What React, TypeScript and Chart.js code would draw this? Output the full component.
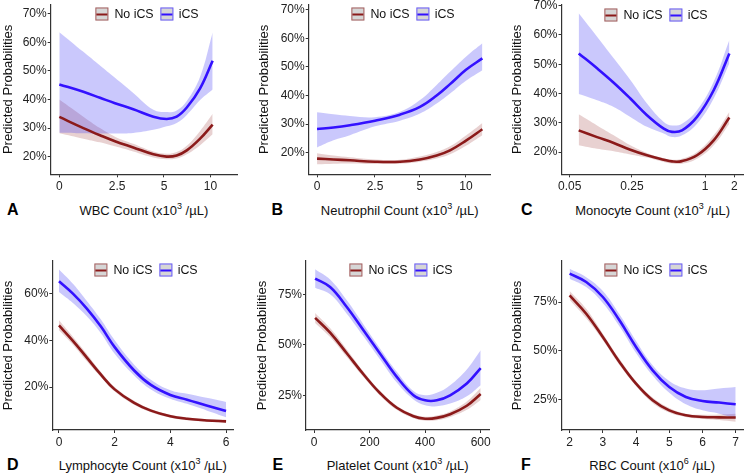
import React, { useEffect, useRef } from "react";
import { Chart, registerables } from "chart.js";
Chart.register(...registerables);

const FONT = "'Liberation Sans', Arial, Helvetica, sans-serif";
Chart.defaults.font.family = FONT;

const RED = "#8B1A1A";
const BLUE = "#3311FF";
const RED_BAND = "rgba(139,26,26,0.2)";
const BLUE_BAND = "rgba(60,50,245,0.27)";

// ---------- Panel A: WBC (non-linear axis, values are axis positions) ----------
const wbcPos = [0, 1.59, 2.69, 3.68, 4.89, 6.22, 7.1, 7.76, 8.43, 9.31, 10.14];
const wbcTickPos = [0, 3.82, 6.92, 10];
const wbcTickLabels = ["0", "2.5", "5", "10"];
const wbcIcs = [45.3, 42.7, 40.6, 38.7, 36.6, 34.0, 33.2, 34.0, 37.2, 43.9, 53.6];
const wbcIcsHi = [63.6, 56.7, 51.9, 47.6, 42.3, 36.4, 35.6, 36.2, 39.5, 48.0, 63.5];
const wbcIcsLo = [28.4, 28.2, 28.1, 28.1, 28.3, 29.4, 30.6, 31.8, 34.6, 39.8, 43.5];
const wbcNo = [33.9, 30.0, 27.5, 25.4, 23.2, 20.8, 20.0, 20.4, 22.2, 26.3, 31.2];
const wbcNoHi = [40.0, 34.0, 30.0, 27.0, 24.5, 21.8, 21.0, 21.6, 23.8, 29.0, 35.0];
const wbcNoLo = [28.2, 26.3, 25.0, 23.6, 21.8, 19.7, 19.1, 19.3, 20.8, 24.0, 27.8];

// ---------- Panel B: Neutrophil ----------
const neuPos = [0, 1.1, 2.21, 3.89, 5.57, 6.91, 8.03, 8.93, 10, 11.1];
const neuTickPos = [0, 3.89, 6.91, 10];
const neuTickLabels = ["0", "2.5", "5", "10"];
const neuIcs = [28.3, 28.8, 29.6, 31.2, 33.3, 36.0, 40.0, 44.0, 49.0, 53.0];
const neuIcsHi = [34.1, 33.4, 32.8, 32.4, 34.3, 38.4, 43.7, 48.3, 53.6, 58.3];
const neuIcsLo = [21.8, 24.3, 26.1, 29.2, 31.2, 33.7, 37.2, 40.7, 45.2, 48.9];
const neuNo = [17.9, 17.6, 17.3, 16.8, 16.8, 17.6, 19.0, 20.8, 24.2, 28.2];
const neuNoHi = [19.8, 19.0, 18.4, 17.6, 17.5, 18.6, 20.2, 22.2, 26.0, 30.4];
const neuNoLo = [15.9, 16.1, 16.2, 16.0, 16.1, 16.8, 17.9, 19.4, 22.4, 26.1];

// ---------- Panel C: Monocyte ----------
const monoPos = [0.66, 2.02, 3.25, 4.48, 5.71, 6.95, 7.56, 8.3, 9.41, 10.64, 11.8];
const monoTickPos = [0, 4.6, 10, 12.17];
const monoTickLabels = ["0.05", "0.25", "1", "2"];
const monoIcs = [53.7, 48.6, 43.7, 38.3, 32.6, 28.0, 26.9, 27.4, 32.0, 41.1, 53.7];
const monoIcsHi = [67.4, 59.4, 52.0, 44.6, 36.6, 30.3, 29.1, 29.7, 34.3, 44.0, 58.3];
const monoIcsLo = [39.8, 37.7, 35.4, 32.0, 28.6, 26.3, 25.1, 25.7, 29.7, 38.3, 50.3];
const monoNo = [27.4, 25.1, 23.1, 20.8, 18.9, 17.4, 16.8, 16.9, 18.9, 24.0, 31.8];
const monoNoHi = [32.9, 29.1, 25.7, 22.3, 19.7, 17.9, 17.4, 17.7, 20.0, 25.7, 33.7];
const monoNoLo = [22.3, 21.1, 20.3, 19.2, 18.1, 16.6, 16.1, 16.0, 17.7, 22.3, 29.7];

// ---------- Panel D: Lymphocyte ----------
const lymX = [0, 0.5, 1.0, 1.5, 2.0, 2.7, 3.3, 4.0, 4.6, 5.3, 6.0];
const lymTicks = [0, 2, 4, 6];
const lymTickLabels = ["0", "2", "4", "6"];
const lymIcs = [65.3, 60.0, 53.6, 46.0, 37.1, 27.1, 20.9, 16.6, 14.6, 12.1, 9.7];
const lymIcsHi = [70.4, 64.3, 56.9, 49.0, 40.0, 29.6, 23.1, 18.6, 17.1, 15.4, 13.6];
const lymIcsLo = [60.7, 56.0, 50.3, 43.2, 34.3, 25.0, 19.0, 15.0, 12.8, 10.0, 7.1];
const lymNo = [46.4, 39.8, 32.6, 25.4, 19.0, 13.2, 9.9, 7.5, 6.4, 5.7, 5.3];
const lymNoHi = [48.6, 41.6, 34.2, 26.6, 20.0, 14.1, 10.6, 8.1, 7.0, 6.3, 6.0];
const lymNoLo = [44.3, 38.1, 31.0, 24.3, 18.1, 12.4, 9.2, 6.9, 5.8, 5.1, 4.6];

// ---------- Panel E: Platelet ----------
const pltX = [4, 58, 118, 178, 238, 298, 358, 400, 442, 490, 550, 600];
const pltTicks = [0, 200, 400, 600];
const pltTickLabels = ["0", "200", "400", "600"];
const pltIcs = [82.8, 78.6, 68.7, 57.2, 45.6, 34.1, 25.0, 22.5, 22.5, 25.0, 30.8, 38.5];
const pltIcsHi = [87.4, 82.3, 72.0, 60.1, 48.1, 36.6, 27.1, 25.0, 26.2, 30.0, 37.8, 47.3];
const pltIcsLo = [78.3, 75.0, 65.4, 54.2, 42.7, 31.3, 22.9, 20.0, 19.6, 20.9, 24.5, 30.0];
const pltNo = [63.3, 56.0, 45.8, 35.4, 26.0, 18.8, 14.6, 13.4, 13.8, 15.6, 19.8, 25.6];
const pltNoHi = [65.8, 58.3, 47.7, 36.8, 27.2, 19.8, 15.6, 14.4, 15.0, 17.0, 21.9, 28.6];
const pltNoLo = [60.8, 53.8, 43.9, 34.0, 24.8, 17.8, 13.6, 12.4, 12.6, 14.2, 17.8, 22.7];

// ---------- Panel F: RBC ----------
const rbcX = [2, 2.5, 3, 3.5, 4, 4.5, 5, 5.5, 6, 6.5, 7];
const rbcTicks = [2, 3, 4, 5, 6, 7];
const rbcTickLabels = ["2", "3", "4", "5", "6", "7"];
const rbcIcs = [89.6, 85.3, 77.6, 65.6, 51.9, 39.9, 31.3, 26.2, 24.1, 23.3, 22.4];
const rbcIcsHi = [92.1, 87.8, 80.7, 68.7, 55.0, 42.5, 34.4, 30.5, 29.6, 30.5, 31.3];
const rbcIcsLo = [87.0, 82.7, 74.5, 62.5, 48.8, 37.2, 28.3, 22.4, 19.3, 17.6, 15.1];
const rbcNo = [78.4, 69.0, 57.0, 44.2, 33.0, 24.5, 19.3, 16.8, 15.9, 15.7, 15.6];
const rbcNoHi = [80.7, 71.5, 58.7, 45.8, 34.3, 25.9, 20.5, 17.6, 17.0, 17.2, 17.6];
const rbcNoLo = [76.2, 66.6, 55.3, 42.6, 31.8, 23.1, 18.2, 15.9, 14.9, 14.3, 13.4];

const pctTicks10 = [20, 30, 40, 50, 60, 70];
const pctTicks20 = [20, 40, 60];
const pctTicks25 = [25, 50, 75];

type Cfg = {
  letter: string;
  xTitle: string;
  sup: string;
  x: number[];
  ics: number[]; icsHi: number[]; icsLo: number[];
  no: number[]; noHi: number[]; noLo: number[];
  xTicks: number[]; xLabels: string[];
  yTicks: number[];
  xMin: number; xMax: number; yMin: number; yMax: number;
  axisX: number; plotRight: number; plotTop: number; axisY: number; titleCx: number;
  legCx: number; legCy: number; letterX: number; titleCy: number;
};

const panels: Cfg[] = [
  { letter: "A", xTitle: "WBC Count", sup: "3", x: wbcPos, ics: wbcIcs, icsHi: wbcIcsHi, icsLo: wbcIcsLo, no: wbcNo, noHi: wbcNoHi, noLo: wbcNoLo,
    xTicks: wbcTickPos, xLabels: wbcTickLabels, yTicks: pctTicks10, xMin: -0.57, xMax: 11.75, yMin: 13.8, yMax: 73.3,
    axisX: 50.7, plotRight: 237, plotTop: 4.5, axisY: 174.3, titleCx: 9, legCx: 147, legCy: 14, letterX: 7, titleCy: 210 },
  { letter: "B", xTitle: "Neutrophil Count", sup: "3", x: neuPos, ics: neuIcs, icsHi: neuIcsHi, icsLo: neuIcsLo, no: neuNo, noHi: neuNoHi, noLo: neuNoLo,
    xTicks: neuTickPos, xLabels: neuTickLabels, yTicks: pctTicks10, xMin: -0.56, xMax: 11.66, yMin: 12.4, yMax: 71.9,
    axisX: 308.7, plotRight: 490.7, plotTop: 4.5, axisY: 174.3, titleCx: 265, legCx: 403, legCy: 14, letterX: 271.5, titleCy: 210 },
  { letter: "C", xTitle: "Monocyte Count", sup: "3", x: monoPos, ics: monoIcs, icsHi: monoIcsHi, icsLo: monoIcsLo, no: monoNo, noHi: monoNoHi, noLo: monoNoLo,
    xTicks: monoTickPos, xLabels: monoTickLabels, yTicks: pctTicks10, xMin: -0.61, xMax: 12.86, yMin: 12.4, yMax: 70.4,
    axisX: 561.5, plotRight: 743.7, plotTop: 4.5, axisY: 174.3, titleCx: 517.7, legCx: 656, legCy: 15, letterX: 521, titleCy: 210 },
  { letter: "D", xTitle: "Lymphocyte Count", sup: "3", x: lymX, ics: lymIcs, icsHi: lymIcsHi, icsLo: lymIcsLo, no: lymNo, noHi: lymNoHi, noLo: lymNoLo,
    xTicks: lymTicks, xLabels: lymTickLabels, yTicks: pctTicks20, xMin: -0.24, xMax: 6.26, yMin: 1.6, yMax: 74,
    axisX: 52.3, plotRight: 233.3, plotTop: 261, axisY: 430, titleCx: 9, legCx: 146, legCy: 270, letterX: 7, titleCy: 465 },
  { letter: "E", xTitle: "Platelet Count", sup: "3", x: pltX, ics: pltIcs, icsHi: pltIcsHi, icsLo: pltIcsLo, no: pltNo, noHi: pltNoHi, noLo: pltNoLo,
    xTicks: pltTicks, xLabels: pltTickLabels, yTicks: pctTicks25, xMin: -28.8, xMax: 631, yMin: 7.8, yMax: 91.5,
    axisX: 306, plotRight: 489.3, plotTop: 261, axisY: 430, titleCx: 262.7, legCx: 401, legCy: 270, letterX: 272.5, titleCy: 465 },
  { letter: "F", xTitle: "RBC Count", sup: "6", x: rbcX, ics: rbcIcs, icsHi: rbcIcsHi, icsLo: rbcIcsLo, no: rbcNo, noHi: rbcNoHi, noLo: rbcNoLo,
    xTicks: rbcTicks, xLabels: rbcTickLabels, yTicks: pctTicks25, xMin: 1.75, xMax: 7.22, yMin: 9.2, yMax: 96.1,
    axisX: 561.3, plotRight: 743, plotTop: 261, axisY: 430, titleCx: 517.7, legCx: 656, legCy: 270, letterX: 521, titleCy: 465 },
];

const pts = (xs: number[], ys: number[]) => xs.map((x, i) => ({ x, y: ys[i] }));

function Panel({ cfg }: { cfg: Cfg }) {
  const ref = useRef<HTMLCanvasElement>(null);
  const L = Math.round(cfg.titleCx - 8.8);
  const T = Math.floor(cfg.plotTop - 10);
  const W = Math.ceil(cfg.plotRight - L + 10);
  const H = Math.ceil(cfg.axisY - T + 24);

  useEffect(() => {
    if (!ref.current) return;
    const lineBase = { pointRadius: 0, tension: 0.4 };
    const chart = new Chart(ref.current, {
      type: "line",
      data: {
        datasets: [
          { ...lineBase, label: "iCS", data: pts(cfg.x, cfg.ics), borderColor: BLUE, borderWidth: 2.6, fill: false },
          { ...lineBase, label: "No iCS", data: pts(cfg.x, cfg.no), borderColor: RED, borderWidth: 2.6, fill: false },
          { ...lineBase, label: "iCS hi", data: pts(cfg.x, cfg.icsHi), borderWidth: 0, borderColor: "rgba(0,0,0,0)", backgroundColor: BLUE_BAND, fill: "+1" },
          { ...lineBase, label: "iCS lo", data: pts(cfg.x, cfg.icsLo), borderWidth: 0, borderColor: "rgba(0,0,0,0)", fill: false },
          { ...lineBase, label: "No hi", data: pts(cfg.x, cfg.noHi), borderWidth: 0, borderColor: "rgba(0,0,0,0)", backgroundColor: RED_BAND, fill: "+1" },
          { ...lineBase, label: "No lo", data: pts(cfg.x, cfg.noLo), borderWidth: 0, borderColor: "rgba(0,0,0,0)", fill: false },
        ],
      },
      options: {
        responsive: false,
        animation: false,
        events: [],
        layout: { padding: { top: cfg.plotTop - T, right: W - (cfg.plotRight - L), left: 0, bottom: 0 } },
        plugins: { legend: { display: false }, tooltip: { enabled: false } },
        scales: {
          x: {
            type: "linear",
            min: cfg.xMin,
            max: cfg.xMax,
            afterBuildTicks: (s: any) => { s.ticks = cfg.xTicks.map((v) => ({ value: v })); },
            afterFit: (s: any) => { s.height = H - (cfg.axisY - T); },
            ticks: {
              autoSkip: false, maxRotation: 0, minRotation: 0, padding: 2, color: "#222",
              font: { size: 12, family: FONT },
              callback: (_v: any, i: number) => cfg.xLabels[i],
            },
            grid: { drawOnChartArea: false, drawTicks: true, tickLength: 3, color: "#333", lineWidth: 1 },
            border: { display: true, color: "#333", width: 1.2 },
          },
          y: {
            type: "linear",
            min: cfg.yMin,
            max: cfg.yMax,
            afterBuildTicks: (s: any) => { s.ticks = cfg.yTicks.map((v) => ({ value: v })); },
            afterFit: (s: any) => { s.width = cfg.axisX - L; },
            ticks: {
              padding: 1, color: "#222", font: { size: 12, family: FONT },
              callback: (v: any) => `${v}%`,
            },
            grid: { drawOnChartArea: false, drawTicks: true, tickLength: 3, color: "#333", lineWidth: 1 },
            border: { display: true, color: "#333", width: 1.2 },
            title: { display: true, text: "Predicted Probabilities", color: "#111", font: { size: 13, family: FONT }, padding: { top: 1, bottom: 0 } },
          },
        },
      },
    });
    return () => chart.destroy();
  }, []);

  const plotCx = (cfg.axisX + cfg.plotRight) / 2;
  return (
    <>
      <canvas ref={ref} width={W} height={H} style={{ position: "absolute", left: L, top: T, width: W, height: H }} />
      <Legend cx={cfg.legCx} cy={cfg.legCy} />
      <div style={{ position: "absolute", left: cfg.letterX, top: cfg.titleCy, transform: "translateY(-50%)", font: `bold 16px ${FONT}`, color: "#000", lineHeight: 1 }}>
        {cfg.letter}
      </div>
      <div style={{ position: "absolute", left: plotCx, top: cfg.titleCy, transform: "translate(-50%,-50%)", font: `13px ${FONT}`, color: "#111", whiteSpace: "nowrap", lineHeight: 1 }}>
        {cfg.xTitle} (x10<span style={{ fontSize: 9, verticalAlign: "super", lineHeight: 0 }}>{cfg.sup}</span> /µL)
      </div>
    </>
  );
}

function Key({ color, border }: { color: string; border: string }) {
  return (
    <div style={{ width: 13, height: 13, boxSizing: "border-box", border: `1px solid ${border}`, background: "#d6d6d6", position: "relative" }}>
      <div style={{ position: "absolute", left: 0, right: 0, top: 4.5, height: 2.5, background: color }} />
    </div>
  );
}

function Legend({ cx, cy }: { cx: number; cy: number }) {
  return (
    <div style={{ position: "absolute", left: cx, top: cy, transform: "translate(-50%,-50%)", display: "flex", alignItems: "center", font: `12.4px ${FONT}`, color: "#111", whiteSpace: "nowrap", lineHeight: 1 }}>
      <Key color={RED} border="#a86060" />
      <span style={{ marginLeft: 6, marginRight: 7 }}>No iCS</span>
      <Key color={BLUE} border="#6a5cff" />
      <span style={{ marginLeft: 5 }}>iCS</span>
    </div>
  );
}

export default function App() {
  return (
    <div style={{ position: "absolute", left: 0, top: 0, width: 747, height: 474, background: "#fff", overflow: "hidden" }}>
      {panels.map((p) => (
        <Panel key={p.letter} cfg={p} />
      ))}
    </div>
  );
}
